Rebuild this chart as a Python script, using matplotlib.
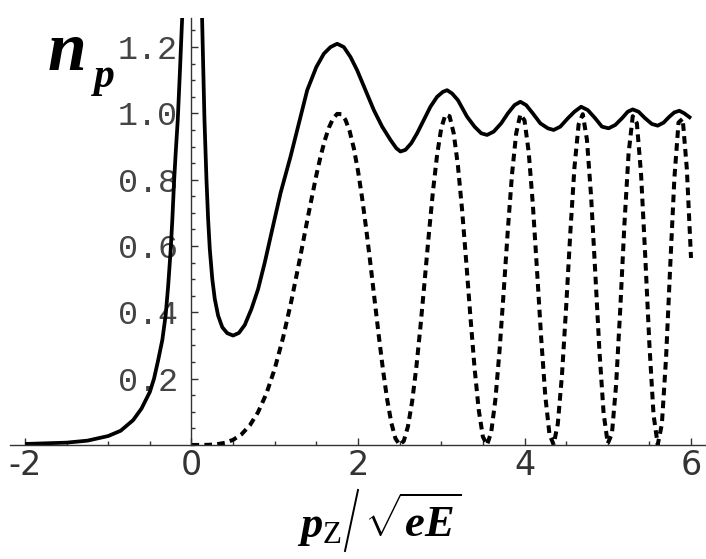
import matplotlib
matplotlib.use('Agg')
import matplotlib.pyplot as plt
from matplotlib.lines import Line2D
from matplotlib.ticker import MultipleLocator, FixedLocator

# solid curve, left branch (x < 0)
x_left = [-2.0, -1.75, -1.5, -1.25, -1.0, -0.85, -0.7, -0.6, -0.5, -0.45,
          -0.4, -0.35, -0.31, -0.28, -0.25, -0.23, -0.21, -0.19, -0.165,
          -0.14, -0.11, -0.10]
y_left = [0.003, 0.005, 0.007, 0.013, 0.027, 0.043, 0.075, 0.11, 0.16, 0.20,
          0.256, 0.317, 0.392, 0.48, 0.588, 0.68, 0.79, 0.88, 0.98,
          1.12, 1.30, 1.36]

# solid curve, right branch (x > 0)
x_right = [0.12, 0.128, 0.14, 0.156, 0.18, 0.20, 0.22, 0.25, 0.28, 0.32,
           0.37, 0.43, 0.50, 0.57, 0.64, 0.72, 0.80, 0.88, 0.97, 1.07,
           1.19, 1.29, 1.39, 1.5, 1.59, 1.67, 1.75, 1.83, 1.91, 1.99,
           2.09, 2.19, 2.29, 2.39, 2.46, 2.51, 2.57, 2.64, 2.71, 2.79,
           2.87, 2.95, 3.02, 3.07, 3.13, 3.2, 3.31, 3.4, 3.48, 3.55,
           3.63, 3.72, 3.8, 3.88, 3.95, 4.02, 4.1, 4.19, 4.28, 4.35,
           4.43, 4.52, 4.6, 4.68, 4.76, 4.85, 4.93, 5.01, 5.09, 5.17,
           5.24, 5.3, 5.37, 5.45, 5.53, 5.6, 5.67, 5.74, 5.8, 5.86,
           5.92, 6.0]
y_right = [1.36, 1.28, 1.15, 0.98, 0.80, 0.68, 0.59, 0.50, 0.44, 0.39,
           0.355, 0.337, 0.330, 0.338, 0.362, 0.41, 0.47, 0.55, 0.65, 0.76,
           0.87, 0.97, 1.07, 1.14, 1.18, 1.20, 1.21, 1.20, 1.17, 1.13,
           1.07, 1.01, 0.96, 0.92, 0.895, 0.885, 0.89, 0.91, 0.94, 0.98,
           1.02, 1.05, 1.065, 1.07, 1.06, 1.04, 0.99, 0.96, 0.94, 0.935,
           0.945, 0.97, 1.00, 1.025, 1.035, 1.025, 1.00, 0.97, 0.955, 0.95,
           0.96, 0.985, 1.005, 1.02, 1.01, 0.985, 0.96, 0.955, 0.965, 0.985,
           1.005, 1.012, 1.005, 0.985, 0.968, 0.963, 0.972, 0.99, 1.003, 1.008,
           1.0, 0.985]

# dashed curve
x_dash = [0.0, 0.1, 0.2, 0.3, 0.4, 0.5, 0.6, 0.7, 0.8, 0.9, 1.0, 1.1, 1.2,
          1.3, 1.4, 1.5, 1.55, 1.6, 1.65, 1.7, 1.75, 1.8, 1.85, 1.9, 1.95,
          2.0, 2.05, 2.1, 2.15, 2.2, 2.25, 2.3, 2.35, 2.4, 2.45, 2.5, 2.55,
          2.6, 2.65, 2.7, 2.75, 2.8, 2.85, 2.9, 2.95, 3.0, 3.05, 3.1, 3.15,
          3.2, 3.25, 3.3, 3.35, 3.4, 3.45, 3.5, 3.55, 3.6, 3.65, 3.7, 3.75,
          3.8, 3.85, 3.9, 3.95, 4.0, 4.05, 4.1, 4.15, 4.2, 4.25, 4.3, 4.35,
          4.4, 4.45, 4.5, 4.55, 4.6, 4.65, 4.7, 4.75, 4.8, 4.85, 4.9, 4.95,
          5.0, 5.05, 5.1, 5.15, 5.2, 5.25, 5.3, 5.35, 5.4, 5.45, 5.5, 5.55,
          5.6, 5.65, 5.7, 5.75, 5.8, 5.85, 5.9, 5.95, 6.0]
y_dash = [0.0, 0.0, 0.0004, 0.002, 0.0064, 0.0155, 0.032, 0.0589, 0.099, 0.155,
          0.2298, 0.3235, 0.4348, 0.559, 0.6897, 0.8141, 0.8697, 0.9178, 0.9567,
          0.9841, 0.9985, 0.9976, 0.9804, 0.9461, 0.8947, 0.8268, 0.7439, 0.6488,
          0.5449, 0.4364, 0.3287, 0.2270, 0.1379, 0.0669, 0.0196, 0.0003, 0.0120,
          0.0558, 0.1305, 0.2327, 0.3564, 0.4931, 0.6330, 0.7639, 0.8748, 0.9555,
          0.9962, 0.9915, 0.9394, 0.8429, 0.7098, 0.5528, 0.3875, 0.2325, 0.1061,
          0.0248, 0.0003, 0.0382, 0.1362, 0.2838, 0.4627, 0.6492, 0.8165, 0.9396,
          0.9971, 0.9789, 0.8842, 0.7259, 0.5280, 0.3233, 0.1470, 0.0320, 0.0013,
          0.0637, 0.2104, 0.4150, 0.6394, 0.8372, 0.9667, 0.9976, 0.9206, 0.7493,
          0.5196, 0.2834, 0.0960, 0.0044, 0.0338, 0.1804, 0.4099, 0.6654, 0.8785,
          0.9915, 0.9700, 0.8165, 0.5709, 0.3031, 0.0911, 0.0008, 0.0628, 0.2618,
          0.5379, 0.8039, 0.9723, 0.9841, 0.8319, 0.5640]

xticks = [-2, 0, 2, 4, 6]
xtick_labels = ['-2', '0', '2', '4', '6']
yticks = [0.2, 0.4, 0.6, 0.8, 1.0, 1.2]
ytick_labels = ['0.2', '0.4', '0.6', '0.8', '1.0', '1.2']

plt.rcParams['mathtext.fontset'] = 'custom'
plt.rcParams['mathtext.rm'] = 'Liberation Serif'
plt.rcParams['mathtext.it'] = 'Liberation Serif:italic'
plt.rcParams['mathtext.bf'] = 'Liberation Serif:bold'
plt.rcParams['mathtext.bfit'] = 'Liberation Serif:bold:italic'

fig = plt.figure(figsize=(7.06, 5.59), dpi=100)
ax = fig.add_axes([0, 0.204, 1, 0.764])

ax.plot(x_left, y_left, color='black', lw=2.7, solid_capstyle='butt')
ax.plot(x_right, y_right, color='black', lw=2.7, solid_capstyle='butt')
ax.plot(x_dash, y_dash, color='black', lw=2.9, dashes=(1.9, 1.3))

ax.set_xlim(-2.30, 6.18)
ax.set_ylim(0, 1.288)

for s in ['top', 'right']:
    ax.spines[s].set_visible(False)
ax.spines['left'].set_position(('data', 0))
ax.spines['bottom'].set_bounds(-2.18, 6.18)
for s in ['left', 'bottom']:
    ax.spines[s].set_color('#333333')
    ax.spines[s].set_linewidth(1.0)

ax.xaxis.set_major_locator(FixedLocator(xticks))
ax.xaxis.set_minor_locator(MultipleLocator(0.5))
ax.yaxis.set_major_locator(FixedLocator(yticks))
ax.yaxis.set_minor_locator(MultipleLocator(0.05))
ax.set_xticklabels(xtick_labels, family=['Liberation Sans Narrow', 'DejaVu Sans'],
                   fontsize=24, color='#333333')
ax.set_yticklabels(ytick_labels, family='Liberation Mono', fontsize=24,
                   color='#444444')

ax.tick_params(which='both', direction='in', color='#333333', width=1.0)
ax.tick_params(which='major', length=5)
ax.tick_params(which='minor', length=2.6)
ax.tick_params(axis='x', which='major', pad=3)
ax.tick_params(axis='y', which='major', pad=10)

# axis labels, placed in figure pixels
W, H = 706, 559
fig.text(47 / W, 1 - 70 / H, r'$\mathbfit{n}$', fontsize=50, ha='left', va='baseline')
fig.text(91 / W, 1 - 87 / H, r'$\mathbfit{p}$', fontsize=30, ha='left', va='baseline')

fig.text(297 / W, 1 - 537 / H, r'$\mathbfit{p}_{\mathrm{Z}}$',
         fontsize=32, ha='left', va='baseline')
fig.add_artist(Line2D([345 / W, 358 / W], [1 - 551 / H, 1 - 490 / H],
                      color='black', lw=1.4, transform=fig.transFigure))
fig.text(364 / W, 1 - 537 / H, r'$\sqrt{\mathbfit{eE}}$',
         fontsize=32, ha='left', va='baseline')

fig.savefig('out.png', dpi=100)
